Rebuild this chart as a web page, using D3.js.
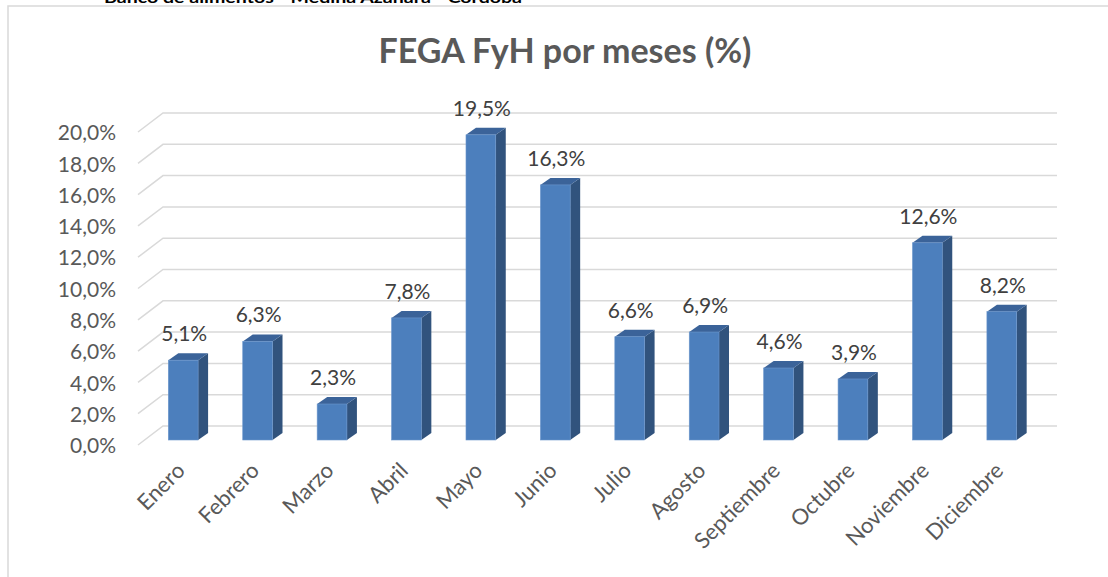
<!DOCTYPE html>
<html><head><meta charset="utf-8">
<script src="https://cdn.jsdelivr.net/npm/d3@7"></script>
<style>html,body{margin:0;padding:0;background:#fff;overflow:hidden}</style>
</head><body>
<svg id="c" width="1108" height="577"></svg>
<script>
const categories = ["Enero","Febrero","Marzo","Abril","Mayo","Junio","Julio","Agosto","Septiembre","Octubre","Noviembre","Diciembre"];
const values = [5.1, 6.3, 2.3, 7.8, 19.5, 16.3, 6.6, 6.9, 4.6, 3.9, 12.6, 8.2];
const tickValues = [0,2,4,6,8,10,12,14,16,18,20];
const titleText = "FEGA FyH por meses (%)";
const headerText = "Banco de alimentos - Medina Azahara - Córdoba";

const fmt = v => v.toFixed(1).replace(".", ",") + "%";
const svg = d3.select("#c");
const FONT = "Lato, 'Open Sans', sans-serif";

// frame
svg.append("path").attr("d","M8,577 L8,6 L1108,6").attr("fill","none").attr("stroke","#d9d9d9").attr("stroke-width",1.5);

// header (clipped at top, as in the source)
svg.append("text").attr("x",104).attr("y",3).attr("font-family",FONT).attr("font-weight","bold")
  .attr("font-size",15).attr("fill","#000").attr("textLength",418).attr("lengthAdjust","spacingAndGlyphs").text(headerText);

// title
svg.append("text").attr("x",565).attr("y",63).attr("text-anchor","middle").attr("font-family",FONT)
  .attr("font-weight","bold").attr("font-size",34).attr("fill","#595959").text(titleText);

const x = d3.scaleBand().domain(categories).range([146,1039]).paddingInner(0.6).paddingOuter(0.3);
const y = d3.scaleLinear().domain([0,20]).range([440,127]);

const DX = 10, DY = -7;          // bar depth
const WALL_DY = -14, WALL_X = 163, WALL_X1 = 1057, FRONT_X = 138, FRONT_DY = 5;

// gridlines
const g = svg.append("g");
tickValues.forEach(t => {
  const yb = y(t) + WALL_DY;
  g.append("path").attr("d", `M${FRONT_X},${y(t)+FRONT_DY} L${WALL_X},${yb} L${WALL_X1},${yb}`)
    .attr("fill","none").attr("stroke","#d9d9d9").attr("stroke-width",1.5);
});

// y axis labels
const yAxis = d3.axisLeft(y).tickValues(tickValues).tickFormat(d => fmt(d)).tickSize(0).tickPadding(0);
const ya = svg.append("g").attr("transform",`translate(116,${FRONT_DY+1})`).call(yAxis);
ya.select(".domain").remove();
ya.selectAll("text").attr("font-family",FONT).attr("font-size",21).attr("fill","#595959");

// bars
const bars = svg.append("g").selectAll("g").data(categories).join("g");
bars.each(function(c,i){
  const v = values[i];
  const x0 = x(c), w = x.bandwidth(), yt = y(v), yb = y(0);
  const s = d3.select(this);
  s.append("path").attr("d",`M${x0+w},${yt} L${x0+w+DX},${yt+DY} L${x0+w+DX},${yb+DY} L${x0+w},${yb} Z`).attr("fill","#31537d");
  s.append("path").attr("d",`M${x0},${yt} L${x0+DX},${yt+DY} L${x0+w+DX},${yt+DY} L${x0+w},${yt} Z`).attr("fill","#3b6399");
  s.append("rect").attr("x",x0).attr("y",yt).attr("width",w).attr("height",yb-yt).attr("fill","#4c7fbd")
    .attr("stroke","#6b96cc").attr("stroke-width",0.6);
  s.append("text").attr("x",x0+w/2+1).attr("y",yt-19).attr("text-anchor","middle").attr("font-family",FONT)
    .attr("font-size",21).attr("fill","#404040").text(fmt(v));
});

// category labels
const xa = svg.append("g");
categories.forEach(c => {
  const cx = x(c) + x.bandwidth()/2 + 3, cy = 472;
  xa.append("text").attr("transform",`translate(${cx},${cy}) rotate(-45)`).attr("text-anchor","end")
    .attr("font-family",FONT).attr("font-size",22).attr("fill","#595959").text(c);
});
</script>
</body></html>
